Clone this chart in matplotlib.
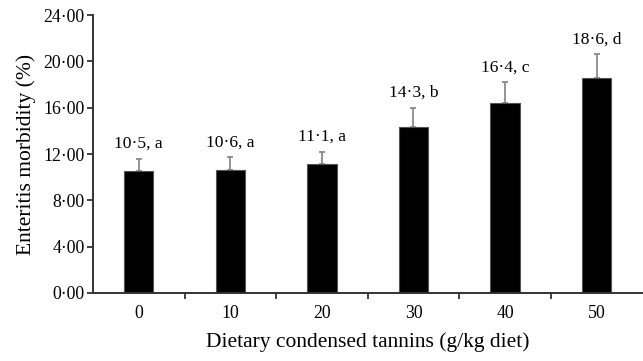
import matplotlib
matplotlib.use("Agg")
import matplotlib.pyplot as plt
import numpy as np

# Enteritis morbidity by dietary condensed tannin level
doses = ["0", "10", "20", "30", "40", "50"]
morbidity = [10.5, 10.6, 11.1, 14.3, 16.4, 18.6]
sem = [1.1, 1.1, 1.1, 1.7, 1.8, 2.0]
letters = ["a", "a", "a", "b", "c", "d"]
y_ticks = [0, 4, 8, 12, 16, 20, 24]

plt.rcParams["font.family"] = ["Liberation Serif", "DejaVu Serif"]

fig = plt.figure(figsize=(6.43, 3.61), dpi=100)
ax = fig.add_axes([0.1446, 0.1884, 0.8545, 0.770])

x = np.arange(len(doses))
ax.bar(x, morbidity, width=0.32, color="black", edgecolor="#555555", linewidth=0.8, zorder=2)
ax.errorbar(x, morbidity, yerr=[np.zeros(len(sem)), sem], fmt="none",
            ecolor="#8a8a8a", elinewidth=1.3, capsize=2.5, capthick=1.3, zorder=1)

for xi, m, s, l in zip(x, morbidity, sem, letters):
    ax.annotate(f"{m:.1f}".replace(".", "\u00b7") + f", {l}",
                xy=(xi, m + s), xytext=(0, 5), textcoords="offset points",
                ha="center", va="bottom", fontsize=12.6)

ax.set_xlim(-0.5, 5.5)
ax.set_ylim(0, 24)
ax.set_yticks(y_ticks)
ax.set_yticklabels([f"{v:.2f}".replace(".", "\u00b7") for v in y_ticks], fontsize=12.8)

ax.set_xticks(x)
ax.set_xticklabels(doses, fontsize=12.8)
ax.tick_params(axis="x", which="major", length=0, pad=9)
ax.set_xticks(np.arange(0.5, 5.0, 1.0), minor=True)
ax.tick_params(axis="x", which="minor", length=4, width=1.3, direction="out", color="#333333")
ax.tick_params(axis="y", length=4, width=1.3, direction="out", color="#333333", pad=2)

for side in ("top", "right"):
    ax.spines[side].set_visible(False)
for side in ("left", "bottom"):
    ax.spines[side].set_linewidth(1.4)
    ax.spines[side].set_color("#333333")

ax.set_ylabel("Enteritis morbidity (%)", fontsize=15.5, labelpad=5)
ax.set_xlabel("Dietary condensed tannins (g/kg diet)", fontsize=15.5, labelpad=7)

fig.savefig("out.png", dpi=100)
